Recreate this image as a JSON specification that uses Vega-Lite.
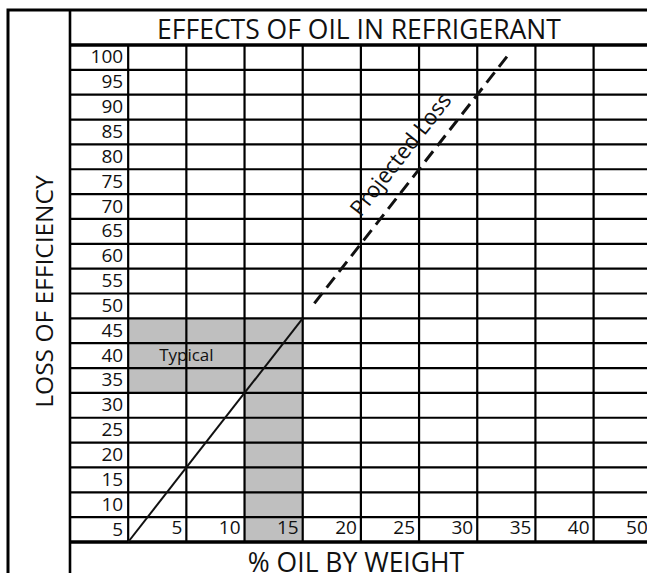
{
  "$schema": "https://vega.github.io/schema/vega-lite/v6.json",
  "width": 639,
  "height": 563,
  "autosize": {"type": "none"},
  "padding": {"left": 8, "top": 10, "right": 0, "bottom": 0},
  "background": "white",
  "title": {"text": "LOSS OF EFFICIENCY", "orient": "left", "anchor": "middle", "offset": -69,
    "baseline": "alphabetic", "fontSize": 24.5, "font": "Open Sans", "fontWeight": "normal", "color": "#111"},
  "config": {
    "view": {"stroke": "#000", "strokeWidth": 3, "strokeDash": [639, 1202, 563, 10]},
    "font": "Open Sans",
    "text": {"font": "Open Sans", "color": "#111"}
  },
  "datasets": {
    "rows": [
      {"loss": 0}, {"loss": 5}, {"loss": 10}, {"loss": 15}, {"loss": 20}, {"loss": 25}, {"loss": 30},
      {"loss": 35}, {"loss": 40}, {"loss": 45}, {"loss": 50}, {"loss": 55}, {"loss": 60}, {"loss": 65},
      {"loss": 70}, {"loss": 75}, {"loss": 80}, {"loss": 85}, {"loss": 90}, {"loss": 95}, {"loss": 100}
    ],
    "columns": [
      {"oil": 0}, {"oil": 5}, {"oil": 10}, {"oil": 15}, {"oil": 20}, {"oil": 25},
      {"oil": 30}, {"oil": 35}, {"oil": 40}, {"oil": 50}
    ],
    "shading": [
      {"oil_from": 0, "oil_to": 15, "loss_from": 30, "loss_to": 45},
      {"oil_from": 10, "oil_to": 15, "loss_from": 0, "loss_to": 30}
    ],
    "measured": [{"oil": 0, "loss": 0}, {"oil": 15, "loss": 45}],
    "projected": [{"oil": 16, "loss": 48}, {"oil": 32.6, "loss": 97.8}],
    "typical": [{"oil": 5, "loss": 37.5, "note": "Typical"}],
    "projnote": [{"oil": 23.45, "loss": 77.9, "note": "Projected Loss"}]
  },
  "resolve": {"axis": {"x": "independent"}},
  "layer": [
    {
      "data": {"name": "shading"},
      "mark": {"type": "rect", "fill": "#bfbfbf"},
      "encoding": {
        "x": {"field": "oil_from", "type": "quantitative",
          "scale": {"domain": [-5, 40, 50], "range": [62, 585.6, 643.8], "zero": false, "nice": false},
          "axis": {"orient": "top", "title": "EFFECTS OF OIL IN REFRIGERANT", "titleX": 350.5, "titleY": 28,
            "titleAlign": "center", "titleBaseline": "alphabetic", "titleFontSize": 26.5, "titleFont": "Open Sans",
            "titleFontWeight": "normal", "titleColor": "#111", "labels": false, "ticks": false, "grid": false,
            "domain": false}},
        "x2": {"field": "oil_to"},
        "y": {"field": "loss_from", "type": "quantitative",
          "scale": {"domain": [0, 100], "range": [532, 35], "zero": false, "nice": false}, "axis": null},
        "y2": {"field": "loss_to"}
      }
    },
    {
      "data": {"name": "columns"},
      "mark": {"type": "rule", "color": "#000", "strokeWidth": 2.2},
      "encoding": {
        "x": {"field": "oil", "type": "quantitative",
          "scale": {"domain": [-5, 40, 50], "range": [62, 585.6, 643.8], "zero": false, "nice": false},
          "axis": {"orient": "bottom", "title": "% OIL BY WEIGHT", "titleX": 347.5, "titleY": -1.5,
            "titleAlign": "center", "titleBaseline": "alphabetic", "titleFontSize": 26.5, "titleFont": "Open Sans",
            "titleFontWeight": "normal", "titleColor": "#111", "labels": false, "ticks": false, "grid": false,
            "domain": false}},
        "y": {"datum": 0, "type": "quantitative",
          "scale": {"domain": [0, 100], "range": [532, 35], "zero": false, "nice": false}, "axis": null},
        "y2": {"datum": 100}
      }
    },
    {
      "data": {"values": [{"oil": -5}]},
      "mark": {"type": "rule", "color": "#000", "strokeWidth": 2.6},
      "encoding": {
        "x": {"field": "oil", "type": "quantitative",
          "scale": {"domain": [-5, 40, 50], "range": [62, 585.6, 643.8], "zero": false, "nice": false}, "axis": null}
      }
    },
    {
      "data": {"name": "rows"},
      "mark": {"type": "rule", "color": "#000"},
      "encoding": {
        "y": {"field": "loss", "type": "quantitative",
          "scale": {"domain": [0, 100], "range": [532, 35], "zero": false, "nice": false}, "axis": null},
        "x": {"datum": -5, "type": "quantitative",
          "scale": {"domain": [-5, 40, 50], "range": [62, 585.6, 643.8], "zero": false, "nice": false}, "axis": null},
        "x2": {"datum": 50},
        "strokeWidth": {"condition": {"test": "datum.loss == 0 || datum.loss == 100", "value": 3.4}, "value": 2.2}
      }
    },
    {
      "data": {"name": "measured"},
      "mark": {"type": "line", "color": "#111", "strokeWidth": 2},
      "encoding": {
        "x": {"field": "oil", "type": "quantitative",
          "scale": {"domain": [-5, 40, 50], "range": [62, 585.6, 643.8], "zero": false, "nice": false}, "axis": null},
        "y": {"field": "loss", "type": "quantitative",
          "scale": {"domain": [0, 100], "range": [532, 35], "zero": false, "nice": false}, "axis": null}
      }
    },
    {
      "data": {"name": "projected"},
      "mark": {"type": "line", "color": "#111", "strokeWidth": 3, "strokeDash": [13, 7]},
      "encoding": {
        "x": {"field": "oil", "type": "quantitative",
          "scale": {"domain": [-5, 40, 50], "range": [62, 585.6, 643.8], "zero": false, "nice": false}, "axis": null},
        "y": {"field": "loss", "type": "quantitative",
          "scale": {"domain": [0, 100], "range": [532, 35], "zero": false, "nice": false}, "axis": null}
      }
    },
    {
      "data": {"name": "rows"},
      "transform": [{"filter": "datum.loss > 0"}],
      "mark": {"type": "text", "align": "right", "baseline": "middle", "dx": -5, "dy": 12.4, "fontSize": 19},
      "encoding": {
        "x": {"datum": 0, "type": "quantitative",
          "scale": {"domain": [-5, 40, 50], "range": [62, 585.6, 643.8], "zero": false, "nice": false}, "axis": null},
        "y": {"field": "loss", "type": "quantitative",
          "scale": {"domain": [0, 100], "range": [532, 35], "zero": false, "nice": false}, "axis": null},
        "text": {"field": "loss", "type": "nominal"}
      }
    },
    {
      "data": {"name": "columns"},
      "transform": [{"filter": "datum.oil > 0"}],
      "mark": {"type": "text", "align": "right", "baseline": "alphabetic", "dx": -4, "dy": -8, "fontSize": 19},
      "encoding": {
        "x": {"field": "oil", "type": "quantitative",
          "scale": {"domain": [-5, 40, 50], "range": [62, 585.6, 643.8], "zero": false, "nice": false}, "axis": null},
        "y": {"datum": 0, "type": "quantitative",
          "scale": {"domain": [0, 100], "range": [532, 35], "zero": false, "nice": false}, "axis": null},
        "text": {"field": "oil", "type": "nominal"}
      }
    },
    {
      "data": {"name": "typical"},
      "mark": {"type": "text", "align": "center", "baseline": "middle", "fontSize": 17},
      "encoding": {
        "x": {"field": "oil", "type": "quantitative",
          "scale": {"domain": [-5, 40, 50], "range": [62, 585.6, 643.8], "zero": false, "nice": false}, "axis": null},
        "y": {"field": "loss", "type": "quantitative",
          "scale": {"domain": [0, 100], "range": [532, 35], "zero": false, "nice": false}, "axis": null},
        "text": {"field": "note", "type": "nominal"}
      }
    },
    {
      "data": {"name": "projnote"},
      "mark": {"type": "text", "align": "center", "baseline": "middle", "fontSize": 22, "angle": 308},
      "encoding": {
        "x": {"field": "oil", "type": "quantitative",
          "scale": {"domain": [-5, 40, 50], "range": [62, 585.6, 643.8], "zero": false, "nice": false}, "axis": null},
        "y": {"field": "loss", "type": "quantitative",
          "scale": {"domain": [0, 100], "range": [532, 35], "zero": false, "nice": false}, "axis": null},
        "text": {"field": "note", "type": "nominal"}
      }
    }
  ]
}
